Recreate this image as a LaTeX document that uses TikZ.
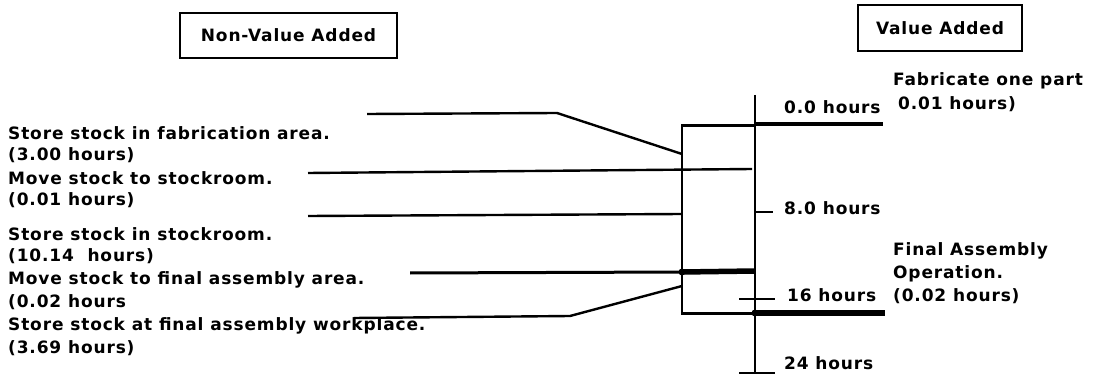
\documentclass[tikz,border=0pt]{standalone}
\usepackage{fontspec}
\setmainfont{DejaVu Sans}[LetterSpace=5, UprightFont={* Bold}]
\begin{document}
\begin{tikzpicture}[x=1pt,y=-1pt,
  txt/.style={font=\fontsize{17}{20}\selectfont, inner sep=0pt, anchor=west},
  hdr/.style={draw, line width=2.2pt, inner sep=0pt, font=\fontsize{17}{20}\selectfont},
  ln/.style={line width=2.4pt},
  mid/.style={line width=3pt},
  heavy/.style={line width=5.5pt},
  dot/.style={circle, fill, inner sep=0pt, minimum size=7pt}
]
\useasboundingbox (0,0) rectangle (1094,379);

% headers
\node[hdr, minimum width=217, minimum height=45] (nva) at (288.5,35.5) {Non-Value Added};
\node[hdr, minimum width=164, minimum height=46] (va) at (940,28) {Value Added};

% time box
\node[draw, line width=2.2pt, minimum width=73, minimum height=188, inner sep=0pt] (tb) at (718.5,219.5) {};

% axis
\coordinate (axT) at (755,95);
\coordinate (axB) at (755,373);
\draw[ln] (axT) -- (axB);

% value-added bars
\coordinate (v0a) at (755,124); \coordinate (v0b) at (883,124);
\draw[line width=4pt] (v0a) -- (v0b);
\coordinate (v1a) at (755,313); \coordinate (v1b) at (885,313);
\draw[heavy] (v1a) -- (v1b);
\node[dot] (d2) at (v1a) {};

% ticks
\coordinate (t8a) at (755,212); \coordinate (t8b) at (773,212);
\draw[ln] (t8a) -- (t8b);
\coordinate (t16a) at (739,299); \coordinate (t16b) at (775,299);
\draw[ln] (t16a) -- (t16b);
\coordinate (t24a) at (739,373); \coordinate (t24b) at (775,373);
\draw[ln] (t24a) -- (t24b);

% tick labels
\node[txt] (h0) at (784,107) {0.0 hours};
\node[txt] (h8) at (784,208) {8.0 hours};
\node[txt] (h16) at (787,295) {16 hours};
\node[txt] (h24) at (784,363) {24 hours};

% value-added labels
\node[txt] (fab1) at (893,81) {Fabricate one part};
\node[txt] (fab2) at (898,104) {0.01 hours)};
\node[txt] (fa1) at (893,251) {Final Assembly};
\node[txt] (fa2) at (893,274) {Operation.};
\node[txt] (fa3) at (893,296) {(0.02 hours)};

% non-value-added labels
\node[txt] (s1) at (8,133) {Store stock in fabrication area.};
\node[txt] (s1b) at (8,155) {(3.00 hours)};
\node[txt] (s2) at (8,178) {Move stock to stockroom.};
\node[txt] (s2b) at (8,200) {(0.01 hours)};
\node[txt] (s3) at (8,234) {Store stock in stockroom.};
\node[txt] (s3b) at (8,256) {(10.14 \ hours)};
\node[txt] (s4) at (8,280) {Move stock to final assembly area.};
\node[txt] (s4b) at (8,302) {(0.02 hours};
\node[txt] (s5) at (8,326) {Store stock at final assembly workplace.};
\node[txt] (s5b) at (8,348) {(3.69 hours)};

% leader lines
\coordinate (l1a) at (367,114); \coordinate (l1b) at (557,113); \coordinate (l1c) at (682,154);
\draw[ln] (l1a) -- (l1b) -- (l1c);
\coordinate (l2a) at (308,173); \coordinate (l2b) at (752,169);
\draw[ln] (l2a) -- (l2b);
\coordinate (l3a) at (308,216); \coordinate (l3b) at (682,214);
\draw[ln] (l3a) -- (l3b);
\coordinate (l4a) at (410,273); \coordinate (l4b) at (682,272); \coordinate (l4c) at (755,271);
\draw[mid] (l4a) -- (l4b);
\draw[heavy] (l4b) -- (l4c);
\node[dot] (d1) at (l4b) {};
\coordinate (l5a) at (354,318); \coordinate (l5b) at (570,316); \coordinate (l5c) at (682,286);
\draw[ln] (l5a) -- (l5b) -- (l5c);
\end{tikzpicture}
\end{document}
